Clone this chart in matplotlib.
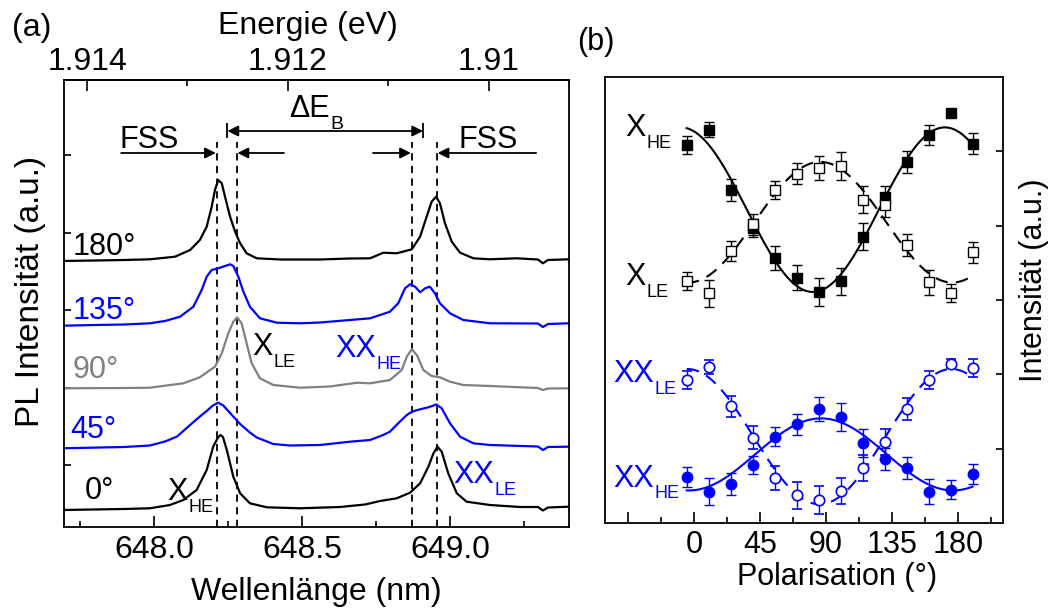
import numpy as np
import matplotlib.pyplot as plt
from matplotlib.ticker import FixedLocator

plt.rcParams["font.family"] = ["Liberation Sans", "DejaVu Sans"]
plt.rcParams["mathtext.fontset"] = "custom"
plt.rcParams["mathtext.rm"] = "Liberation Sans"

BLUE = "#0000ff"
GRAY = "#808080"

# ---- panel (a): PL spectra, intensity above each curve's own baseline (a.u.)
WL_180 = [647.689, 647.801, 647.899, 647.986, 648.071, 648.122, 648.155, 648.178, 648.195, 648.206,
          648.217, 648.229, 648.240, 648.257, 648.274, 648.291, 648.313, 648.347, 648.426, 648.561,
          648.662, 648.730, 648.775, 648.820, 648.871, 648.899, 648.921, 648.938, 648.953, 648.966,
          648.983, 649.006, 649.034, 649.079, 649.135, 649.225, 649.297, 649.314, 649.331, 649.402]
PL_180 = [-1, -0.5, 0, 0.7, 3.3, 10, 20, 33.3, 53.3, 70,
          80, 76.7, 63.3, 43.3, 28.3, 16.7, 6.7, 1.7, 0.5, 0.5,
          1.5, 1.7, 7.3, 6.7, 10.7, 23.3, 43.3, 58.3, 63.3, 56.7,
          36.7, 18.3, 7.3, 1.7, 0.7, 1.7, 0.5, -3.3, 0, 0.7]

WL_135 = [647.689, 647.801, 647.899, 647.986, 648.037, 648.088, 648.133, 648.161, 648.178, 648.195,
          648.217, 648.240, 648.257, 648.268, 648.285, 648.302, 648.324, 648.358, 648.415, 648.493,
          648.561, 648.662, 648.730, 648.797, 648.825, 648.848, 648.865, 648.882, 648.899, 648.916,
          648.932, 648.949, 648.966, 649.000, 649.045, 649.135, 649.297, 649.314, 649.331, 649.402]
PL_135 = [-1.7, -1, -0.5, 0.7, 3, 7.3, 17.3, 34, 47.3, 54,
          55.7, 58, 59.7, 58, 47.3, 32.3, 17.3, 5.7, 1.3, 0.7,
          1.5, 4, 5.7, 12.3, 20.7, 35.7, 39.7, 37.3, 31.7, 35.7,
          37.3, 30.7, 20.7, 10.7, 4, 0.7, 0.5, -3, 0, 0.7]

WL_90 = [647.689, 647.899, 647.986, 648.099, 648.155, 648.206, 648.229, 648.251, 648.268, 648.281,
         648.296, 648.313, 648.330, 648.358, 648.403, 648.493, 648.595, 648.686, 648.730, 648.797,
         648.837, 648.854, 648.871, 648.888, 648.910, 648.938, 648.966, 649.000, 649.045, 649.135,
         649.297, 649.314, 649.331, 649.402]
PL_90 = [-0.3, 0, 0.3, 4.7, 10.7, 21.3, 34.7, 54.7, 66.3, 70.7,
         64.7, 44.7, 24.7, 9.7, 3, 0.3, 1.5, 5.3, 4.7, 8,
         18, 31.3, 38.7, 33, 18, 12, 10.7, 6.3, 3, 2,
         0, -2, -0.5, -0.3]

WL_45 = [647.689, 647.899, 647.986, 648.037, 648.077, 648.122, 648.155, 648.178, 648.199, 648.217,
         648.234, 648.257, 648.291, 648.324, 648.347, 648.403, 648.459, 648.561, 648.662, 648.730,
         648.774, 648.797, 648.825, 648.854, 648.871, 648.899, 648.927, 648.954, 648.972, 649.000,
         649.034, 649.079, 649.135, 649.297, 649.314, 649.331, 649.402]
PL_45 = [-1.3, 0, 1.5, 5.5, 10.3, 22, 30.5, 36, 41.5, 44.3,
         41.5, 34, 23, 14.5, 9.5, 3, 1.5, 2, 5.3, 7,
         12, 15.3, 23.7, 32, 35.3, 37.7, 39.7, 42.5, 38.7, 23.7,
         10.3, 3.7, 2, 0.5, -3, 0, 0.3]

WL_0 = [647.689, 647.899, 647.986, 648.054, 648.099, 648.144, 648.178, 648.200, 648.217, 648.225,
        648.233, 648.246, 648.268, 648.291, 648.324, 648.381, 648.493, 648.628, 648.713, 648.764,
        648.820, 648.865, 648.899, 648.927, 648.944, 648.958, 648.972, 648.994, 649.023, 649.056,
        649.135, 649.236, 649.297, 649.314, 649.331, 649.402]
PL_0 = [-1, 0, 0.7, 4, 9, 19, 39, 62.3, 72, 74,
        72, 59, 32.3, 15.7, 5.7, 1.7, 0.7, 2, 4.5, 8,
        10.7, 16.3, 25.7, 42.3, 55.7, 62.3, 57.3, 35.7, 15.7, 7.3,
        4, 2, 2, -1.5, 1.5, 2.3]

SPEC_LABELS = ["180°", "135°", "90°", "45°", "0°"]
SPEC_OFFSETS = [267, 203, 139, 80, 18]
LINE_WL = [648.213, 648.280, 648.872, 648.956]   # X_HE, X_LE, XX_HE, XX_LE

# ---- panel (b): polarisation series
ANGLE = [-5, 10, 25, 40, 55, 70, 85, 100, 115, 130, 145, 160, 175, 190]
X_HE = [5.08, 5.29, 4.48, 3.97, 3.57, 3.30, 3.11, 3.25, 3.85, 4.38, 4.86, 5.22, 5.52, 5.10]
X_HE_ERR = [0.12, 0.10, 0.15, 0.12, 0.16, 0.17, 0.19, 0.18, 0.18, 0.16, 0.15, 0.13, 0.05, 0.14]
X_LE = [3.25, 3.09, 3.66, 4.02, 4.48, 4.70, 4.78, 4.80, 4.35, 4.28, 3.74, 3.24, 3.09, 3.64]
X_LE_ERR = [0.12, 0.18, 0.14, 0.14, 0.12, 0.14, 0.16, 0.19, 0.18, 0.16, 0.15, 0.17, 0.12, 0.14]
XX_HE = [0.62, 0.42, 0.52, 0.78, 1.16, 1.33, 1.53, 1.43, 1.08, 0.86, 0.74, 0.42, 0.45, 0.66]
XX_HE_ERR = [0.13, 0.18, 0.15, 0.12, 0.13, 0.14, 0.16, 0.19, 0.19, 0.15, 0.15, 0.17, 0.13, 0.13]
XX_LE = [1.92, 2.10, 1.57, 1.15, 0.61, 0.37, 0.31, 0.43, 0.74, 1.09, 1.53, 1.92, 2.14, 2.09]
XX_LE_ERR = [0.12, 0.09, 0.14, 0.15, 0.16, 0.18, 0.19, 0.17, 0.18, 0.18, 0.15, 0.12, 0.06, 0.12]

W, H = 1054, 612


def nm_to_ev(x):
    x = np.asarray(x, dtype=float)
    with np.errstate(divide="ignore"):
        return 1239.84 / x


def cos2_fit(theta, y, t_out):
    """Least-squares a + b cos(2t) + c sin(2t) fit to the measured points."""
    t = np.radians(theta)
    A = np.column_stack([np.ones_like(t), np.cos(2 * t), np.sin(2 * t)])
    coef, *_ = np.linalg.lstsq(A, np.asarray(y), rcond=None)
    to = np.radians(t_out)
    return coef[0] + coef[1] * np.cos(2 * to) + coef[2] * np.sin(2 * to)


def sub_label(ax, x, y, main, sub, color="black", size=22, subsize=13, **kw):
    """Main text with a small, dropped subscript (X_LE style)."""
    t = ax.text(x, y, main, color=color, fontsize=size, ha="left", va="baseline", **kw)
    ax.annotate(sub, xy=(1, 0), xycoords=t, xytext=(0.5, -3.5), textcoords="offset points",
                color=color, fontsize=subsize, ha="left", va="baseline")
    return t


fig = plt.figure(figsize=(W / 100, H / 100), dpi=100)
ax = fig.add_axes([64 / W, 1 - 527 / H, 505 / W, 447 / H])
bx = fig.add_axes([605 / W, 1 - 523 / H, 398 / W, 446 / H])

for a in (ax, bx):
    for s in a.spines.values():
        s.set_linewidth(1.3)

# ---------------- panel (a)
spectra = [(WL_180, PL_180, "black"), (WL_135, PL_135, BLUE), (WL_90, PL_90, GRAY),
           (WL_45, PL_45, BLUE), (WL_0, PL_0, "black")]
for (wl, pl, col), off in zip(spectra, SPEC_OFFSETS):
    ax.plot(wl, np.asarray(pl) + off, color=col, lw=1.6, zorder=2)

ax.vlines(LINE_WL, 0, 385, colors="black", linestyles=(0, (4, 3)), lw=1.3, zorder=1)

ax.set_xlim(647.696, 649.402)
ax.set_ylim(0, 447)
ax.set_xticks([648.0, 648.5, 649.0], labels=["648.0", "648.5", "649.0"])
ax.xaxis.set_minor_locator(FixedLocator([647.75, 648.25, 648.75, 649.25]))
ax.tick_params(axis="x", which="both", direction="in", top=False, labelsize=23, pad=6, width=1.2)
ax.tick_params(axis="x", which="major", length=8)
ax.tick_params(axis="x", which="minor", length=4)
ax.set_yticks([62, 139.5, 217, 294.5, 372], labels=[])
ax.tick_params(axis="y", direction="in", length=5, width=1.2, right=False)

sec = ax.secondary_xaxis("top", functions=(nm_to_ev, nm_to_ev))
sec.set_xticks([1.914, 1.912, 1.910], labels=["1.914", "1.912", "1.91"])
sec.xaxis.set_minor_locator(FixedLocator([1.913, 1.911]))
sec.tick_params(axis="x", which="both", direction="in", labelsize=23, pad=2, width=1.2)
sec.tick_params(axis="x", which="major", length=8)
sec.tick_params(axis="x", which="minor", length=4)
sec.spines["top"].set_linewidth(1.3)

label_pos = [(647.726, 272, "black"), (647.726, 208, BLUE), (647.726, 149, GRAY),
             (647.716, 89, BLUE), (647.767, 28, "black")]
for (x, y, col), txt in zip(label_pos, SPEC_LABELS):
    ax.text(x, y, txt, color=col, fontsize=22, ha="left", va="baseline")

sub_label(ax, 648.331, 172, "X", "LE")
sub_label(ax, 648.611, 170, "XX", "HE", color=BLUE)
sub_label(ax, 648.044, 27, "X", "HE")
sub_label(ax, 649.010, 44, "XX", "LE", color=BLUE)

# FSS / binding energy annotations
ax.text(647.985, 379, "FSS", fontsize=22, ha="center", va="baseline")
ax.text(649.130, 379, "FSS", fontsize=22, ha="center", va="baseline")
sub_label(ax, 648.456, 410, "ΔE", "B", subsize=14)
arr = dict(arrowstyle="-|>", color="black", lw=1.3, mutation_scale=16, shrinkA=0, shrinkB=0)
for x0, x1 in [(647.889, 648.209), (648.439, 648.282), (648.740, 648.868), (649.291, 648.958)]:
    ax.annotate("", xy=(x1, 374), xytext=(x0, 374), arrowprops=arr)
ax.annotate("", xy=(648.909, 396), xytext=(648.248, 396),
            arrowprops=dict(arrowstyle="<|-|>", color="black", lw=1.3, mutation_scale=16,
                            shrinkA=0, shrinkB=0))
ax.vlines([648.248, 648.909], 389, 404, colors="black", lw=1.3)

fig.text(308 / W, 1 - 26 / H, "Energie (eV)", fontsize=23, ha="center", va="center")
fig.text(316 / W, 1 - 592 / H, "Wellenlänge (nm)", fontsize=23, ha="center", va="center")
fig.text(31 / W, 1 - 291 / H, "PL Intensität (a.u.)", fontsize=24, rotation=90,
         ha="center", va="center")
fig.text(12 / W, 1 - 28 / H, "(a)", fontsize=23, ha="left", va="center")

# ---------------- panel (b)
t_fit = np.linspace(-5, 190, 300)
bx.plot(t_fit, cos2_fit(ANGLE, X_HE, t_fit), color="black", lw=1.5, zorder=1)
bx.plot(t_fit, cos2_fit(ANGLE, X_LE, t_fit), color="black", lw=1.5, ls=(0, (6, 4)), zorder=1)
bx.plot(t_fit, cos2_fit(ANGLE, XX_HE, t_fit), color=BLUE, lw=1.5, zorder=1)
bx.plot(t_fit, cos2_fit(ANGLE, XX_LE, t_fit), color=BLUE, lw=1.5, ls=(0, (6, 4)), zorder=1)

eb = dict(ms=7.5, elinewidth=1.0, capsize=3.5, capthick=1.0, zorder=3)
bx.errorbar(ANGLE, X_HE, yerr=X_HE_ERR, fmt="s", color="black", **eb)
bx.errorbar(ANGLE, X_LE, yerr=X_LE_ERR, fmt="s", color="black", mfc="white", mew=1.0, **eb)
bx.errorbar(ANGLE, XX_HE, yerr=XX_HE_ERR, fmt="o", color=BLUE, **eb)
bx.errorbar(ANGLE, XX_LE, yerr=XX_LE_ERR, fmt="o", color=BLUE, mfc="white", mew=1.2, **eb)

bx.set_xlim(-60.7, 210.7)
bx.set_ylim(0, 6)
bx.set_xticks([-45, 0, 45, 90, 135, 180], labels=["", "0", "45", "90", "135", "180"])
bx.xaxis.set_minor_locator(FixedLocator([-22.5, 22.5, 67.5, 112.5, 157.5, 202.5]))
bx.tick_params(axis="x", which="both", direction="in", top=False, labelsize=22, pad=5, width=1.2)
bx.tick_params(axis="x", which="major", length=8)
bx.tick_params(axis="x", which="minor", length=4)
bx.yaxis.tick_right()
bx.set_yticks([1, 2, 3, 4, 5], labels=[])
bx.tick_params(axis="y", direction="in", length=5, width=1.2, left=False, right=True)

sub_label(bx, -47, 5.20, "X", "HE")
sub_label(bx, -47, 3.20, "X", "LE")
sub_label(bx, -55.2, 1.90, "XX", "LE", color=BLUE)
sub_label(bx, -55.2, 0.49, "XX", "HE", color=BLUE)

fig.text(577 / W, 1 - 42 / H, "(b)", fontsize=22, ha="left", va="center")
fig.text(837 / W, 1 - 577 / H, "Polarisation (°)", fontsize=22, ha="center", va="center")
fig.text(1034 / W, 1 - 280 / H, "Intensität (a.u.)", fontsize=22, rotation=90,
         ha="center", va="center")

fig.savefig("out.png", dpi=100)
